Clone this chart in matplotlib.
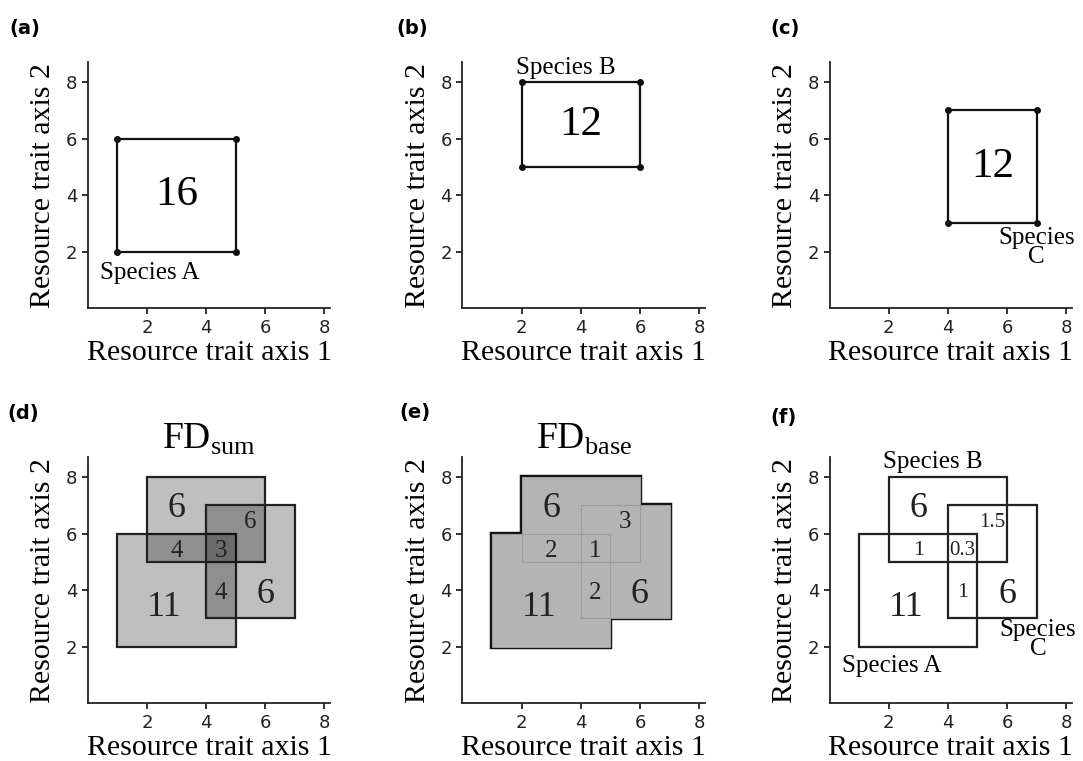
import matplotlib
matplotlib.use("Agg")
import matplotlib.pyplot as plt
from matplotlib.patches import Rectangle

plt.rcParams['mathtext.fontset'] = 'custom'
plt.rcParams['mathtext.rm'] = 'Liberation Serif'

SERIF = 'Liberation Serif'

# species niches: (x0, y0, width, height) in trait space
species_names = ['A', 'B', 'C']
rect_a = (1, 2, 4, 4)
rect_b = (2, 5, 4, 3)
rect_c = (4, 3, 3, 4)
rects = [rect_a, rect_b, rect_c]

# volumes written in the single-species panels
volumes = [16, 12, 12]

# region labels for the combined panels: (x, y, text, size)
sum_labels = [(3.0, 6.9, '6', 26), (5.5, 6.4, '6', 18), (3.0, 5.4, '4', 18),
              (4.5, 5.4, '3', 18), (2.6, 3.4, '11', 26), (4.5, 3.9, '4', 18),
              (6.0, 3.85, '6', 26)]
base_labels = [(3.0, 6.9, '6', 26), (5.5, 6.4, '3', 18), (3.0, 5.4, '2', 18),
               (4.5, 5.4, '1', 18), (2.6, 3.4, '11', 26), (4.5, 3.9, '2', 18),
               (6.0, 3.85, '6', 26)]
part_labels = [(3.0, 6.9, '6', 26), (5.5, 6.4, '1.5', 15), (3.0, 5.4, '1', 16),
               (4.5, 5.4, '0.3', 15), (2.6, 3.4, '11', 26), (4.5, 3.9, '1', 16),
               (6.0, 3.85, '6', 26)]

ticks = [2, 4, 6, 8]

fig = plt.figure(figsize=(10.83, 7.61), dpi=100)

lefts = [0.081, 0.427, 0.766]
bottoms = [0.595, 0.076]
w, h = 0.224, 0.323
panel_tags = ['(a)', '(b)', '(c)', '(d)', '(e)', '(f)']


def setup(ax):
    ax.set_xlim(0, 8.2)
    ax.set_ylim(0, 8.7)
    for s in ['top', 'right']:
        ax.spines[s].set_visible(False)
    for s in ['left', 'bottom']:
        ax.spines[s].set_linewidth(1.3)
        ax.spines[s].set_color('#222222')
    ax.set_xticks(ticks)
    ax.set_yticks(ticks)
    ax.tick_params(length=4, width=1.3, labelsize=13, colors='#222222')
    ax.tick_params(axis='x', pad=4)
    ax.set_xlabel('Resource trait axis 1', family=SERIF, fontsize=21.5, labelpad=2)
    ax.set_ylabel('Resource trait axis 2', family=SERIF, fontsize=21.5, labelpad=7)


axes = []
for r in range(2):
    for c in range(3):
        ax = fig.add_axes([lefts[c], bottoms[r], w, h])
        setup(ax)
        axes.append(ax)

# tags
tag_pos = [(0.009, 0.962), (0.366, 0.962), (0.711, 0.962),
           (0.007, 0.457), (0.369, 0.458), (0.711, 0.451)]
for tag, (tx, ty) in zip(panel_tags, tag_pos):
    fig.text(tx, ty, tag, fontsize=14, fontweight='bold', family='DejaVu Sans',
             va='center', ha='left')

# (a)-(c): single species
for ax, (x0, y0, rw, rh), vol in zip(axes[:3], rects, volumes):
    ax.add_patch(Rectangle((x0, y0), rw, rh, fill=False, ec='#111111', lw=1.6))
    ax.plot([x0, x0 + rw, x0, x0 + rw], [y0, y0, y0 + rh, y0 + rh], 'o',
            color='#111111', ms=4, ls='none')
    ax.text(x0 + rw / 2, y0 + rh / 2, str(vol), family=SERIF, fontsize=31,
            ha='center', va='center')

axes[0].text(2.1, 1.25, 'Species A', family=SERIF, fontsize=18, ha='center', va='center')
axes[1].text(3.5, 8.5, 'Species B', family=SERIF, fontsize=18, ha='center', va='center')
axes[2].text(7.0, 2.15, 'Species\nC', family=SERIF, fontsize=18, ha='center',
             va='center', multialignment='center', linespacing=0.85)

# (d) FD sum: overlapping translucent rectangles
ax = axes[3]
for (x0, y0, rw, rh) in rects:
    ax.add_patch(Rectangle((x0, y0), rw, rh, fc='black', alpha=0.25, lw=0))
    ax.add_patch(Rectangle((x0, y0), rw, rh, fill=False, ec='#222222', lw=1.6))
for x, y, t, s in sum_labels:
    ax.text(x, y, t, family=SERIF, fontsize=s, ha='center', va='center', color='#222222')
ax.set_title(r'FD$_{\rm sum}$', family=SERIF, fontsize=27, pad=4)

# (e) FD base: union area
ax = axes[4]
for (x0, y0, rw, rh) in rects:
    ax.add_patch(Rectangle((x0, y0), rw, rh, fill=False, ec='#111111', lw=3.2, zorder=2))
for (x0, y0, rw, rh) in rects:
    ax.add_patch(Rectangle((x0, y0), rw, rh, fc='#b4b4b4', lw=0, zorder=3))
for (x0, y0, rw, rh) in rects:
    ax.add_patch(Rectangle((x0, y0), rw, rh, fill=False, ec='#9a9a9a', lw=0.8, zorder=4))
for x, y, t, s in base_labels:
    ax.text(x, y, t, family=SERIF, fontsize=s, ha='center', va='center',
            color='#222222', zorder=5)
ax.set_title(r'FD$_{\rm base}$', family=SERIF, fontsize=27, pad=4)

# (f) partitioned outlines
ax = axes[5]
for (x0, y0, rw, rh) in rects:
    ax.add_patch(Rectangle((x0, y0), rw, rh, fill=False, ec='#222222', lw=1.6))
for x, y, t, s in part_labels:
    ax.text(x, y, t, family=SERIF, fontsize=s, ha='center', va='center', color='#222222')
ax.text(3.5, 8.55, 'Species B', family=SERIF, fontsize=18, ha='center', va='center')
ax.text(2.1, 1.3, 'Species A', family=SERIF, fontsize=18, ha='center', va='center')
ax.text(7.05, 2.25, 'Species\nC', family=SERIF, fontsize=18, ha='center',
        va='center', multialignment='center', linespacing=0.85)

fig.savefig('out.png', dpi=100)
